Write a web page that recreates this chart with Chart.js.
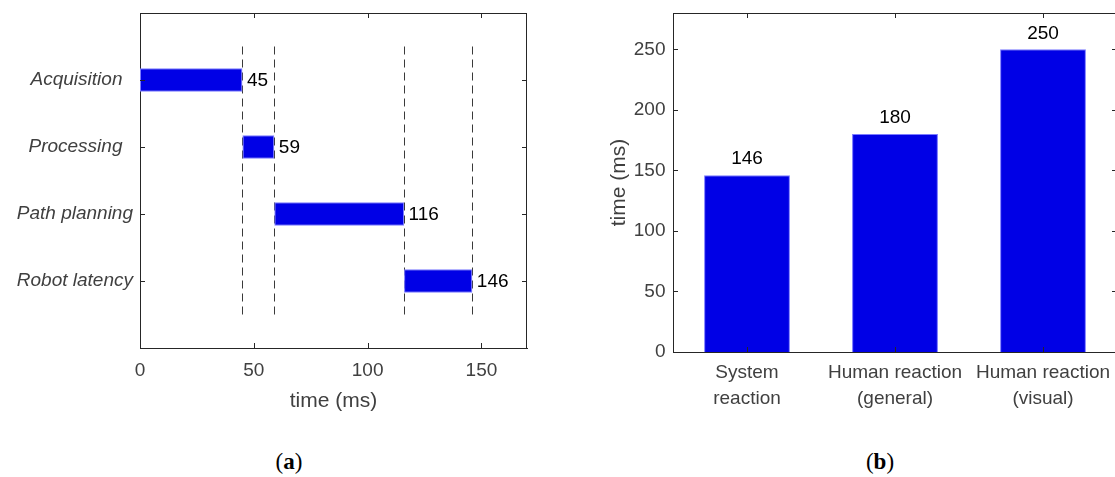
<!DOCTYPE html>
<html><head><meta charset="utf-8">
<script src="https://cdn.jsdelivr.net/npm/chart.js@4.4.0/dist/chart.umd.min.js"></script>
<style>
html,body{margin:0;padding:0;background:#fff;overflow:hidden;width:1115px;height:477px;}
#ca{position:absolute;left:0;top:0;}
#cb{position:absolute;left:560px;top:0;}
.cap{position:absolute;top:449px;font-family:'Liberation Serif','DejaVu Serif',serif;font-size:23px;color:#000;transform:translateX(-50%);white-space:nowrap;}
.cap b{font-weight:bold;}
</style></head><body>
<canvas id="ca" width="560" height="420"></canvas>
<canvas id="cb" width="560" height="420"></canvas>
<div class="cap" style="left:289px">(<b>a</b>)</div>
<div class="cap" style="left:880px">(<b>b</b>)</div>
<script>
// ---- data (a) ----
const stages = ['Acquisition  ', 'Processing  ', 'Path planning', 'Robot latency'];
const stageStart = [0, 45, 59, 116];
const stageEnd = [45, 59, 116, 146];
const xTicksA = [0, 50, 100, 150];
// ---- data (b) ----
const reactions = [['System', 'reaction'], ['Human reaction', '(general)'], ['Human reaction', '(visual)']];
const reactionTimes = [146, 180, 250];
const yTicksB = [0, 50, 100, 150, 200, 250];

const BLUE = '#0000e6', EDGE = '#7b7bff', AX = '#262626', TXT = '#404040';
const FONT = "'Liberation Sans', Arial, Helvetica, sans-serif";

const catLabels = [''].concat(stages, ['']);
const barsA = catLabels.map((c, i) => (i >= 1 && i <= stages.length) ? [stageStart[i - 1], stageEnd[i - 1]] : null);

function line(ctx, x1, y1, x2, y2) { ctx.beginPath(); ctx.moveTo(x1, y1); ctx.lineTo(x2, y2); ctx.stroke(); }
function noPad(s) { s.paddingTop = 0; s.paddingBottom = 0; s.paddingLeft = 0; s.paddingRight = 0; }

const frameA = {
  id: 'frameA',
  beforeDatasetsDraw(chart) {
    const { ctx, scales: { x, y } } = chart;
    ctx.save();
    ctx.strokeStyle = '#3a3a3a'; ctx.lineWidth = 1; ctx.setLineDash([8, 5]);
    const y0 = y.getPixelForValue(0.5), y1 = y.getPixelForValue(stages.length + 0.5);
    stageEnd.forEach(v => { const px = Math.round(x.getPixelForValue(v)) + 0.5; line(ctx, px, y0, px, y1); });
    ctx.restore();
  },
  afterDatasetsDraw(chart) {
    const { ctx, chartArea: a, scales: { x, y } } = chart;
    ctx.save();
    ctx.strokeStyle = AX; ctx.lineWidth = 1;
    line(ctx, a.left, a.top + 0.5, a.right, a.top + 0.5);
    line(ctx, a.right - 0.5, a.top, a.right - 0.5, a.bottom);
    x.ticks.forEach(t => {
      const px = Math.round(x.getPixelForValue(t.value)) + 0.5;
      line(ctx, px, a.bottom, px, a.bottom - 5);
      line(ctx, px, a.top, px, a.top + 5);
    });
    y.ticks.forEach(t => {
      if (!catLabels[t.value]) return;
      const py = Math.round(y.getPixelForValue(t.value)) + 0.5;
      line(ctx, a.left, py, a.left + 5, py);
      line(ctx, a.right, py, a.right - 5, py);
    });
    ctx.fillStyle = '#000'; ctx.font = '19px ' + FONT; ctx.textAlign = 'left'; ctx.textBaseline = 'middle';
    stageEnd.forEach((v, i) => {
      ctx.fillText(String(v), x.getPixelForValue(v) + 4.5, y.getPixelForValue(i + 1) + 1);
    });
    ctx.restore();
  }
};

const frameB = {
  id: 'frameB',
  afterDatasetsDraw(chart) {
    const { ctx, chartArea: a, scales: { x, y } } = chart;
    ctx.save();
    ctx.strokeStyle = AX; ctx.lineWidth = 1;
    line(ctx, a.left, a.top + 0.5, a.right, a.top + 0.5);
    line(ctx, a.right - 0.5, a.top, a.right - 0.5, a.bottom);
    x.ticks.forEach((t, i) => {
      const px = Math.round(x.getPixelForTick(i)) + 0.5;
      line(ctx, px, a.bottom, px, a.bottom - 5);
      line(ctx, px, a.top, px, a.top + 5);
    });
    y.ticks.forEach(t => {
      const py = Math.round(y.getPixelForValue(t.value)) + 0.5;
      line(ctx, a.left, py, a.left + 5, py);
      line(ctx, a.right, py, a.right - 5, py);
    });
    ctx.fillStyle = '#000'; ctx.font = '19px ' + FONT; ctx.textAlign = 'center'; ctx.textBaseline = 'middle';
    reactionTimes.forEach((v, i) => {
      ctx.fillText(String(v), x.getPixelForValue(i), y.getPixelForValue(v) - 16);
    });
    ctx.restore();
  }
};

new Chart(document.getElementById('ca'), {
  type: 'bar',
  data: { labels: catLabels, datasets: [{ data: barsA, backgroundColor: BLUE, borderColor: EDGE, borderWidth: 1, borderSkipped: false, categoryPercentage: 1, barPercentage: 0.354 }] },
  options: {
    indexAxis: 'y', responsive: false, animation: false, events: [],
    layout: { padding: { top: 13, right: 33, left: 0, bottom: 0 } },
    plugins: { legend: { display: false }, tooltip: { enabled: false } },
    scales: {
      x: {
        type: 'linear', min: 0, max: 170,
        afterBuildTicks: s => { s.ticks = xTicksA.map(v => ({ value: v })); },
        afterFit: s => { s.height = 72; noPad(s); },
        grid: { display: false, drawTicks: false }, border: { display: true, color: AX, width: 1 },
        ticks: { color: TXT, font: { family: FONT, size: 19 }, padding: 11, maxRotation: 0 },
        title: { display: true, text: 'time (ms)', color: TXT, font: { family: FONT, size: 21 }, padding: { top: 0, bottom: 6 } }
      },
      y: {
        type: 'category', offset: false,
        afterFit: s => { s.width = 140; noPad(s); },
        grid: { display: false, drawTicks: false }, border: { display: true, color: AX, width: 1 },
        ticks: { color: TXT, font: { family: FONT, size: 19, style: 'italic' }, padding: 7, autoSkip: false }
      }
    }
  },
  plugins: [frameA]
});

new Chart(document.getElementById('cb'), {
  type: 'bar',
  data: { labels: reactions, datasets: [{ data: reactionTimes, backgroundColor: BLUE, borderColor: EDGE, borderWidth: 1, borderSkipped: 'bottom', categoryPercentage: 1, barPercentage: 0.58 }] },
  options: {
    responsive: false, animation: false, events: [],
    layout: { padding: { top: 13, right: 3, left: 0, bottom: 0 } },
    plugins: { legend: { display: false }, tooltip: { enabled: false } },
    scales: {
      x: {
        type: 'category', offset: true,
        afterFit: s => { s.height = 68; noPad(s); },
        grid: { display: false, drawTicks: false }, border: { display: true, color: AX, width: 1 },
        ticks: { color: TXT, font: { family: FONT, size: 19, lineHeight: 1.37 }, padding: 7.5, maxRotation: 0, autoSkip: false }
      },
      y: {
        type: 'linear', min: 0, max: 280,
        afterBuildTicks: s => { s.ticks = yTicksB.map(v => ({ value: v })); },
        afterFit: s => { s.width = 113; noPad(s); },
        grid: { display: false, drawTicks: false }, border: { display: true, color: AX, width: 1 },
        ticks: { color: TXT, font: { family: FONT, size: 19 }, padding: 7.5 },
        title: { display: true, text: 'time (ms)', color: TXT, font: { family: FONT, size: 21 }, padding: { top: 47, bottom: 0 } }
      }
    }
  },
  plugins: [frameB]
});
</script>
</body></html>
